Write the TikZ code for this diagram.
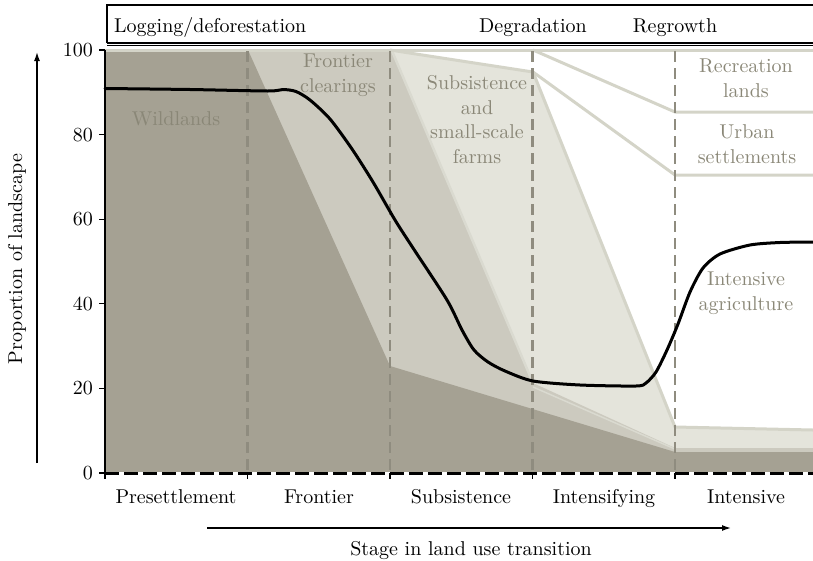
\documentclass[tikz,border=0pt]{standalone}
\usepackage{fontspec}
\setmainfont{lmroman10-regular.otf}
\usetikzlibrary{arrows.meta}
\definecolor{wild}{HTML}{A5A193}
\definecolor{front}{HTML}{CCCABF}
\definecolor{subs}{HTML}{E4E4DB}
\definecolor{edgeline}{HTML}{D4D4C8}
\definecolor{seam}{HTML}{DADAD0}
\definecolor{stageline}{HTML}{8F8C7F}
\definecolor{lbl}{HTML}{8A8777}
\begin{document}
\begin{tikzpicture}[x=1pt,y=-1pt,
  font=\fontsize{20}{24.5}\selectfont,
  boundary/.style={edgeline, line width=3pt, line join=round},
  stagediv/.style={stageline, line width=2.4pt, dash pattern=on 11pt off 6pt},
  areatext/.style={text=lbl, align=center, anchor=base},
  ticklbl/.style={anchor=east, inner sep=0pt},
  stagelbl/.style={anchor=base},
  axisarrow/.style={line width=1.4pt, -{Latex[length=9pt,width=6pt]}},
  trend/.style={line width=3pt, line cap=round, line join=round}]
\useasboundingbox (0,0) rectangle (813,560);
\clip (0,0) rectangle (813,560);

% ---- stacked land-use areas ----
\fill[subs] (390,50) -- (533,72) -- (675,427) -- (813,430) -- (813,473) -- (390,473) -- cycle;
\fill[front] (247,50) -- (392,50) -- (533,383) -- (675,448) -- (813,448) -- (813,473) -- (247,473) -- cycle;
\fill[wild] (105,50) -- (248,50) -- (390,366) -- (675,452) -- (813,452) -- (813,473) -- (105,473) -- cycle;

% ---- boundary strokes between classes ----
\draw[seam, line width=2.5pt] (392,51) -- (533,383);
\draw[seam, line width=1.5pt] (533,387) -- (675,449);
\draw[boundary] (105,50) -- (813,50);
\draw[boundary] (390,50) -- (533,72);
\draw[boundary] (533,72) -- (675,427) -- (813,430);
\draw[boundary] (533,50) -- (675,112) -- (813,112);
\draw[boundary] (533,72) -- (675,175) -- (813,175);

% ---- stage dividers ----
\foreach \xs in {247.5,390,532.5,675}
  \draw[stagediv] (\xs,51) -- (\xs,472);

% ---- phase header box ----
\draw[line width=1.8pt] (107,43) -- (107,5) -- (830,5);
\draw[line width=1.8pt] (107,43) -- (830,43);
\draw[line width=0.8pt] (107,45.6) -- (830,45.6);
\node[anchor=base west, inner sep=0pt] (logging) at (114,32) {Logging/deforestation};
\node[anchor=base] (degrad) at (533,32) {Degradation};
\node[anchor=base] (regrow) at (675,32) {Regrowth};

% ---- axes ----
\draw[line width=1.5pt] (105,50) -- (105,473);
\draw[white, line width=3pt] (105,473) -- (813,473);
\draw[black, line width=3pt, dash pattern=on 14pt off 5pt] (105,473) -- (813,473);
\foreach \v/\nm in {0/t0,20/t20,40/t40,60/t60,80/t80,100/t100} {
  \draw[line width=1.3pt] (99,{473-4.23*\v}) -- (105,{473-4.23*\v});
  \node[ticklbl] (\nm) at (93,{473-4.23*\v}) {\v};
}
\foreach \xs in {105,247.5,390,532.5,675}
  \draw[line width=1.3pt] (\xs,473) -- (\xs,479);

\node[stagelbl] (pre) at (176,503) {Presettlement};
\node[stagelbl] (fro) at (319,503) {Frontier};
\node[stagelbl] (sub) at (461,503) {Subsistence};
\node[stagelbl] (ify) at (604,503) {Intensifying};
\node[stagelbl] (ive) at (746,503) {Intensive};

\coordinate (ybot) at (37,463);
\coordinate (ytop) at (37,52);
\draw[axisarrow] (ybot) -- (ytop);
\node[rotate=90] (ylabel) at (17,259) {Proportion of landscape};

\coordinate (xbeg) at (207,528);
\coordinate (xend) at (731,528);
\draw[axisarrow] (xbeg) -- (xend);
\node[anchor=base] (xlabel) at (471,555) {Stage in land use transition};

% ---- area labels (anchored at the baseline of the last line) ----
\node[areatext] (wildl) at (176,125.5) {Wildlands};
\node[areatext] (frcl) at (338,92) {Frontier\\clearings};
\node[areatext] (ssf) at (477,163) {Subsistence\\and\\small-scale\\farms};
\node[areatext] (rec) at (746,97) {Recreation\\lands};
\node[areatext] (urb) at (747,163) {Urban\\settlements};
\node[areatext] (iag) at (746,310) {Intensive\\agriculture};

% ---- forest cover trend ----
\draw[trend] plot[smooth, tension=0.45] coordinates {
  (105,88.5) (190,89.5) (268,91) (283,89.5) (296,91.5) (310,100) (330,119)
  (352,149) (373,182) (395,220) (413,248) (447,300) (462,330) (474,350)
  (488,362) (505,371) (533,381) (580,385) (636,386) (646,383) (656,372)
  (667,350) (678,324) (690,292) (703,268) (720,254) (750,245) (780,242.5) (813,242)};
\end{tikzpicture}
\end{document}
